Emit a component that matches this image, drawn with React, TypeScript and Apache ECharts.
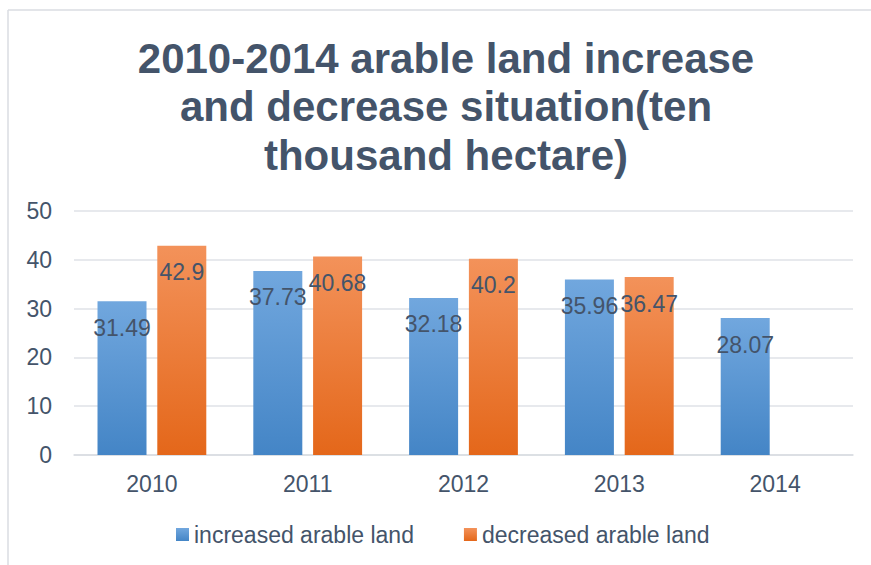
import React, { useEffect, useRef } from "react";
import * as echarts from "echarts";

const categories = ["2010", "2011", "2012", "2013", "2014"];
const increased = [31.49, 37.73, 32.18, 35.96, 28.07];
const decreased: (number | null)[] = [42.9, 40.68, 40.2, 36.47, null];
const seriesNames = ["increased arable land", "decreased arable land"];
const titleText = "2010-2014 arable land increase\nand decrease situation(ten\nthousand hectare)";

const FONT = "'Liberation Sans', Arial, sans-serif";
const TEXT = "#44546A";

const blueGrad = new echarts.graphic.LinearGradient(0, 0, 0, 1, [
  { offset: 0, color: "#71A7DE" },
  { offset: 1, color: "#4485C6" },
]);
const orangeGrad = new echarts.graphic.LinearGradient(0, 0, 0, 1, [
  { offset: 0, color: "#F3925A" },
  { offset: 1, color: "#E4671A" },
]);

export default function App() {
  const ref = useRef<HTMLDivElement>(null);
  useEffect(() => {
    if (!ref.current) return;
    const chart = echarts.init(ref.current, undefined, { renderer: "svg" });
    const label = {
      show: true,
      position: "insideTop",
      distance: 15,
      color: TEXT,
      fontSize: 23,
      fontFamily: FONT,
    };
    chart.setOption({
      animation: false,
      backgroundColor: "#ffffff",
      textStyle: { fontFamily: FONT },
      graphic: [
        {
          type: "line",
          shape: { x1: 8, y1: 10, x2: 871, y2: 10 },
          style: { stroke: "#DADDE2", lineWidth: 1.5 },
          silent: true,
        },
        {
          type: "line",
          shape: { x1: 8, y1: 10, x2: 8, y2: 565 },
          style: { stroke: "#DADDE2", lineWidth: 1.5 },
          silent: true,
        },
        {
          type: "text",
          x: 446,
          y: 34,
          style: {
            text: titleText,
            fill: TEXT,
            fontSize: 42,
            fontWeight: "bold",
            fontFamily: FONT,
            lineHeight: 48.5,
            align: "center",
            verticalAlign: "top",
          },
        },
      ],
      grid: { left: 74, right: 18, top: 211, bottom: 110, containLabel: false },
      legend: {
        data: seriesNames,
        left: 176,
        top: 523,
        padding: 0,
        itemWidth: 13,
        itemHeight: 13,
        itemGap: 50,
        icon: "rect",
        textStyle: { color: TEXT, fontSize: 23, fontFamily: FONT },
      },
      xAxis: {
        type: "category",
        data: categories,
        axisTick: { show: false },
        axisLine: { lineStyle: { color: "#D9DCE1", width: 1.5 } },
        axisLabel: { color: TEXT, fontSize: 23, fontFamily: FONT, margin: 17 },
      },
      yAxis: {
        type: "value",
        min: 0,
        max: 50,
        interval: 10,
        axisLine: { show: false },
        axisTick: { show: false },
        splitLine: { lineStyle: { color: "#DFE2E7", width: 1.5 } },
        axisLabel: { color: TEXT, fontSize: 23, fontFamily: FONT, margin: 22 },
      },
      series: [
        {
          name: seriesNames[0],
          type: "bar",
          data: increased,
          barWidth: 49,
          barGap: "22%",
          itemStyle: { color: blueGrad },
          label,
        },
        {
          name: seriesNames[1],
          type: "bar",
          data: decreased,
          barWidth: 49,
          itemStyle: { color: orangeGrad },
          label,
        },
      ],
    });
    return () => chart.dispose();
  }, []);
  return (
    <div
      ref={ref}
      style={{ position: "fixed", left: 0, top: 0, width: 871, height: 565 }}
    />
  );
}
